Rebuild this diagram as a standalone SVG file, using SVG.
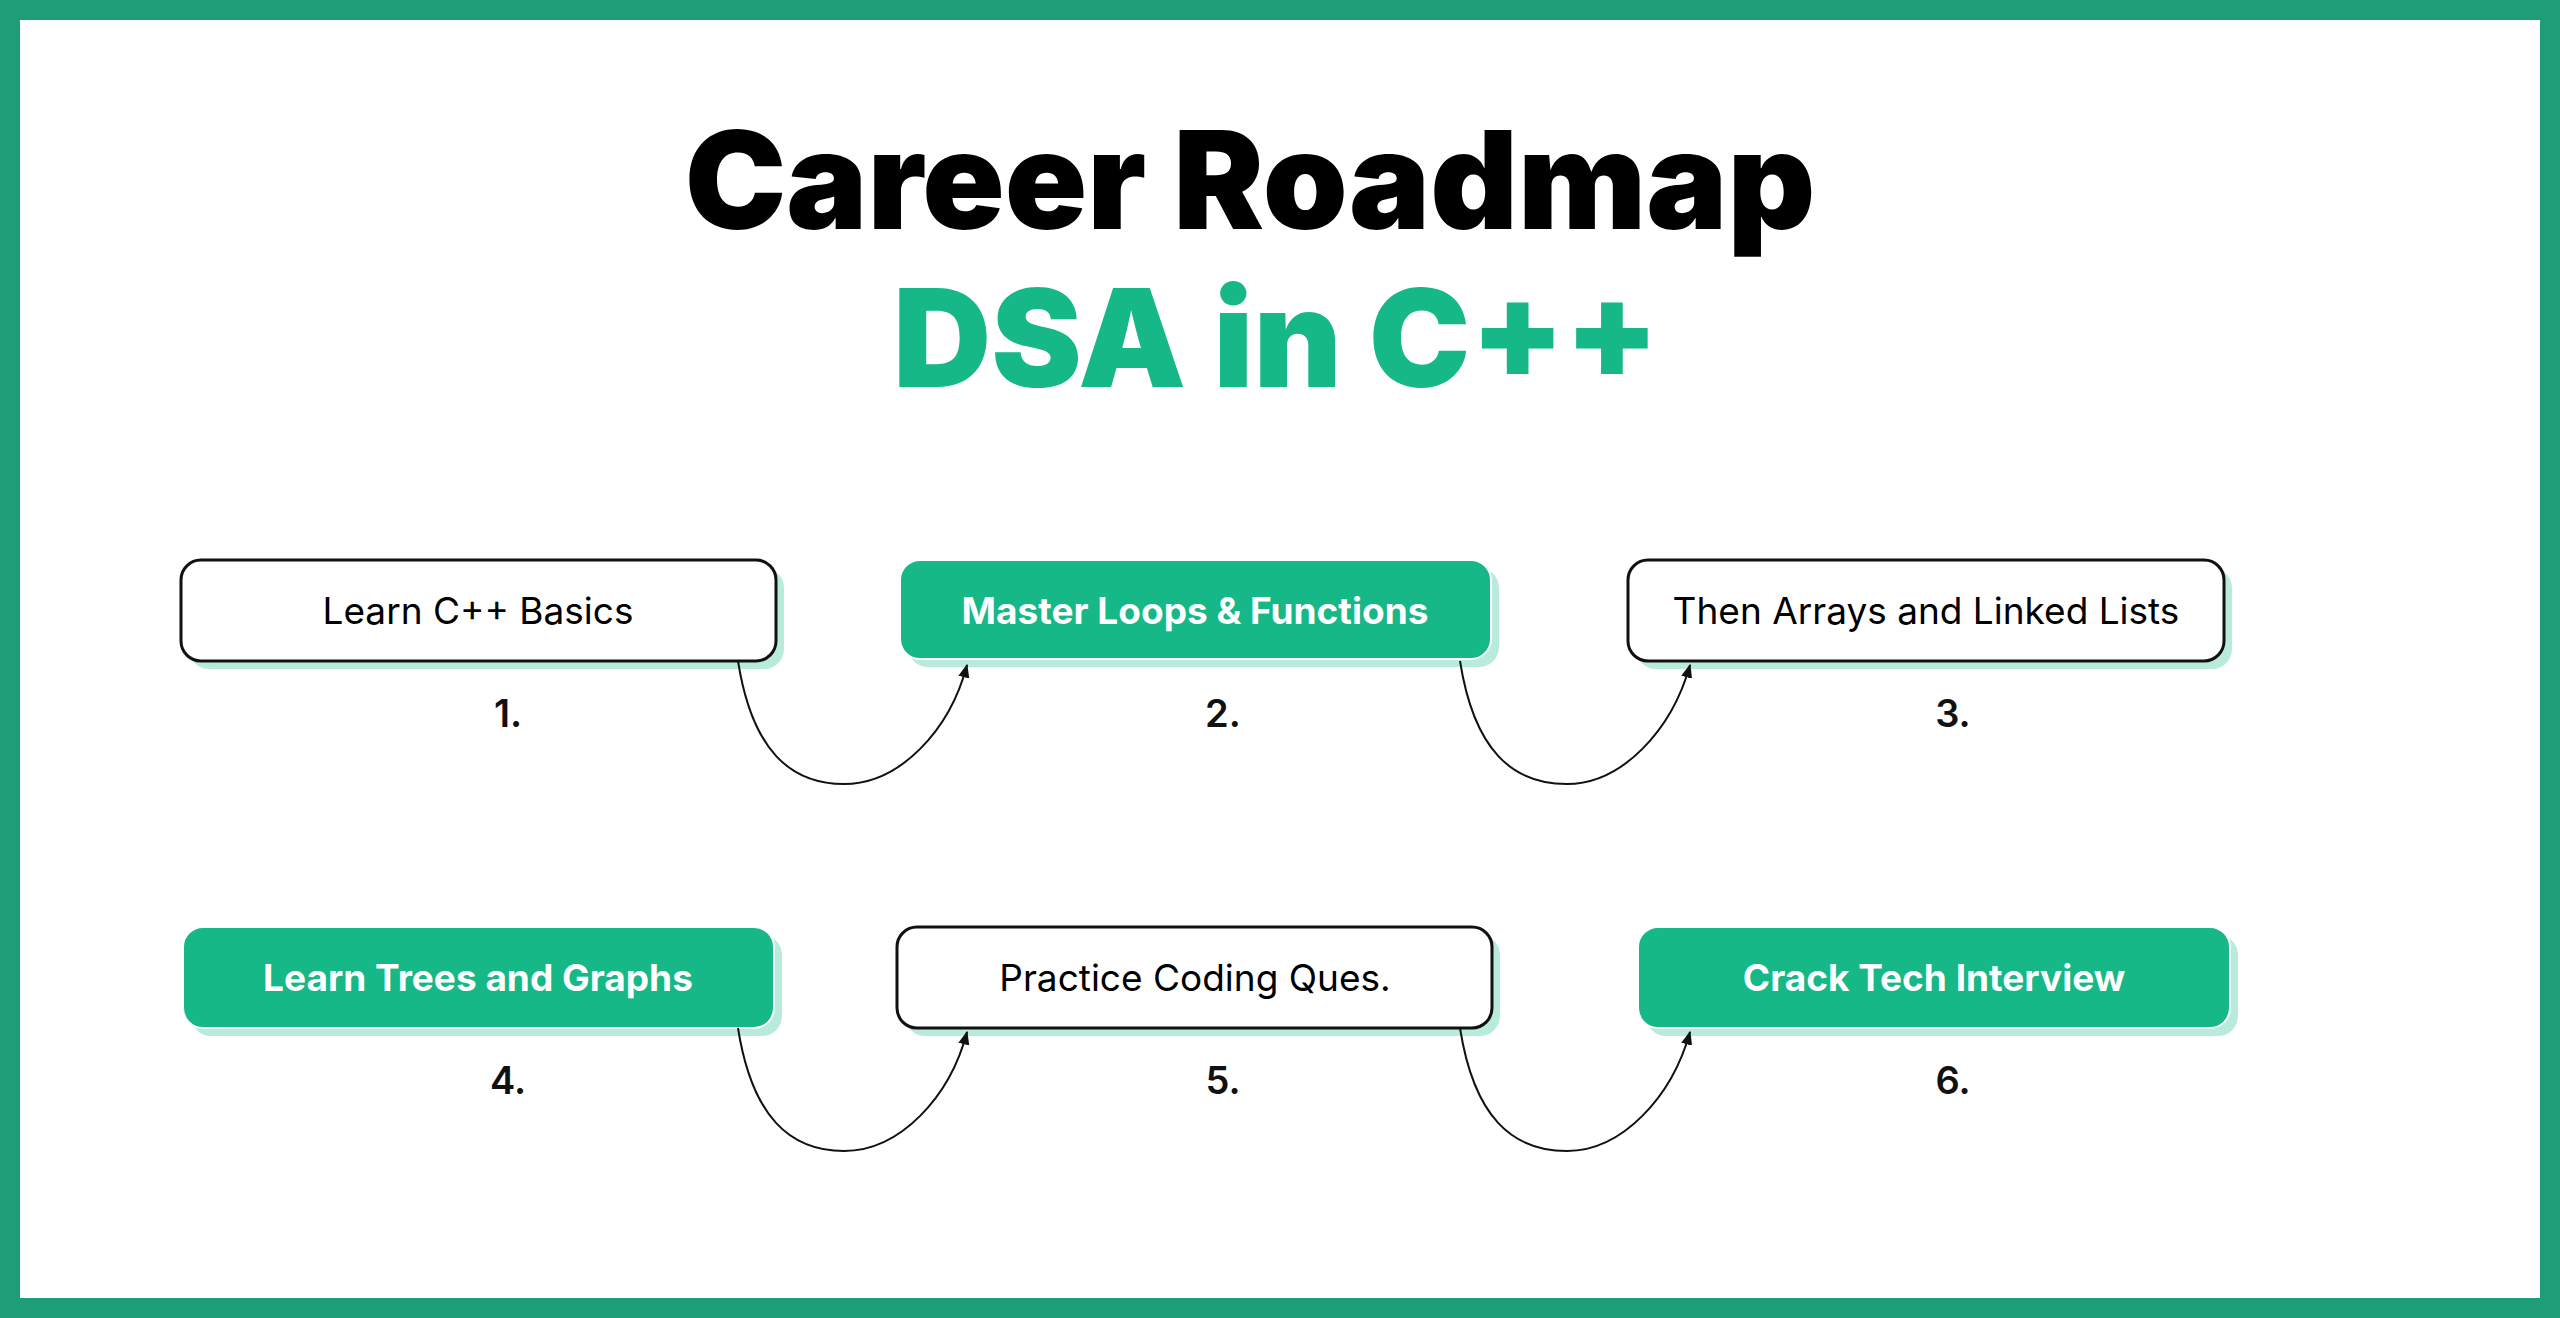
<svg xmlns="http://www.w3.org/2000/svg" width="2560" height="1318" viewBox="0 0 2560 1318">
<defs>
<style>
.t{font-family:"Inter","Liberation Sans",sans-serif;}
.sh{fill:#b9ebdc;}
.w{fill:#fff;stroke:#111;stroke-width:3;}
.g{fill:#15b886;stroke:#fff;stroke-width:2;}
.lb{font-size:37px;text-anchor:middle;}
.lw{font-size:37px;text-anchor:middle;fill:#fff;font-weight:700;}
.n{font-size:38px;text-anchor:middle;font-weight:600;fill:#111;}
.c{fill:none;stroke:#111;stroke-width:2;marker-end:url(#a);}
</style>
<marker id="a" viewBox="0 0 10 10" refX="9" refY="5" markerWidth="7" markerHeight="7" orient="auto"><path d="M0,1 L10,5 L0,9 z" fill="#111"/></marker>
</defs>
<rect x="10" y="10" width="2540" height="1298" fill="#fff" stroke="#1e9e78" stroke-width="20"/>
<g id="title" class="t">
<text x="1250" y="229" font-size="136" font-weight="900" text-anchor="middle" fill="#000">Career Roadmap</text>
<text x="1276" y="387" font-size="136" font-weight="900" text-anchor="middle" fill="#15b886">DSA in C++</text>
</g>
<g id="n1" class="t"><rect class="sh" x="189" y="568" width="595" height="101" rx="20"/><rect class="w" x="181" y="560" width="595" height="101" rx="20"/><text class="lb" x="478" y="624">Learn C++ Basics</text><text class="n" x="508" y="727">1.</text></g>
<g id="n2" class="t"><rect class="sh" x="908" y="568" width="591" height="99" rx="20"/><rect class="g" x="900" y="560" width="591" height="99" rx="20"/><text class="lw" x="1195" y="624">Master Loops &amp; Functions</text><text class="n" x="1223" y="727">2.</text></g>
<g id="n3" class="t"><rect class="sh" x="1636" y="568" width="596" height="101" rx="20"/><rect class="w" x="1628" y="560" width="596" height="101" rx="20"/><text class="lb" x="1926" y="624">Then Arrays and Linked Lists</text><text class="n" x="1953" y="727">3.</text></g>
<g id="n4" class="t"><rect class="sh" x="191" y="935" width="591" height="101" rx="20"/><rect class="g" x="183" y="927" width="591" height="101" rx="20"/><text class="lw" x="478" y="991">Learn Trees and Graphs</text><text class="n" x="508" y="1094">4.</text></g>
<g id="n5" class="t"><rect class="sh" x="905" y="935" width="595" height="101" rx="20"/><rect class="w" x="897" y="927" width="595" height="101" rx="20"/><text class="lb" x="1195" y="991">Practice Coding Ques.</text><text class="n" x="1223" y="1094">5.</text></g>
<g id="n6" class="t"><rect class="sh" x="1646" y="935" width="592" height="101" rx="20"/><rect class="g" x="1638" y="927" width="592" height="101" rx="20"/><text class="lw" x="1934" y="991">Crack Tech Interview</text><text class="n" x="1953" y="1094">6.</text></g>
<g id="connectors">
<path class="c" d="M738,661 C752,750 790,784 844,784 C900,784 950,730 967,665"/>
<path class="c" d="M1460,661 C1474,750 1512,784 1567,784 C1622,784 1672,730 1690,665"/>
<path class="c" d="M738,1028 C752,1117 790,1151 844,1151 C900,1151 950,1097 967,1032"/>
<path class="c" d="M1460,1028 C1474,1117 1512,1151 1567,1151 C1622,1151 1672,1097 1690,1032"/>
</g>
</svg>
